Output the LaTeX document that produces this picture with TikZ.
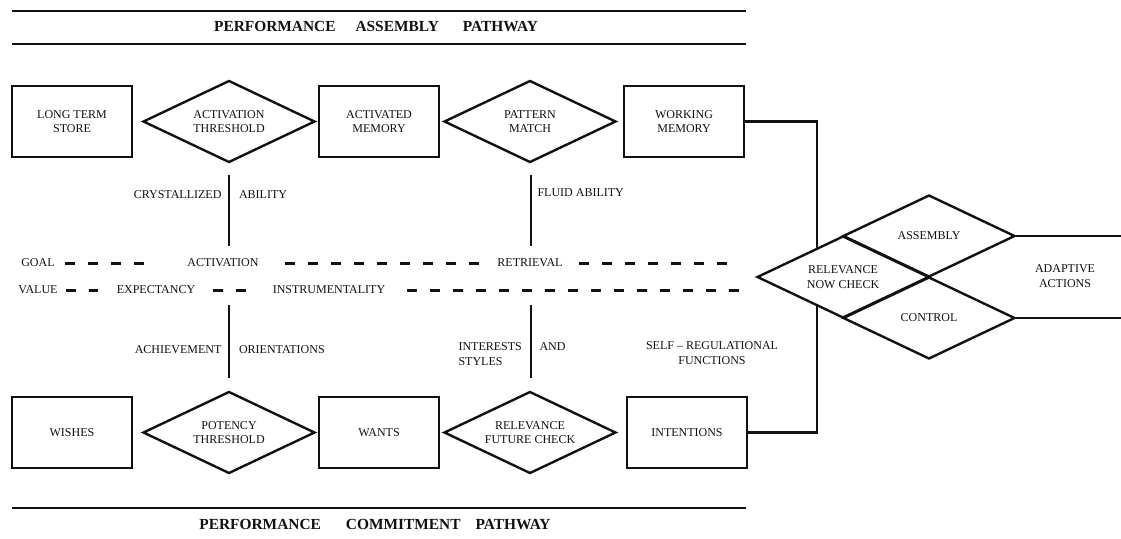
\documentclass[tikz,border=0pt]{standalone}
\usepackage{fontspec}
\setmainfont{Liberation Serif}
\usetikzlibrary{shapes.geometric}
\definecolor{diagink}{HTML}{111111}

\begin{document}
\begin{tikzpicture}[x=1pt, y=-1pt,
  every node/.style={font=\fontsize{12}{14.5}\selectfont, text=diagink, align=center},
  stagebox/.style={draw=diagink, line width=2.4pt, fill=white, minimum width=120pt, minimum height=71pt, inner sep=0pt},
  checkgate/.style={draw=diagink, line width=2.4pt, fill=white, diamond, aspect=2, minimum width=172pt, minimum height=82pt, inner sep=0pt},
  link/.style={draw=diagink, line width=2.2pt},
  dashrow/.style={draw=diagink, line width=3pt, dash pattern=on 10pt off 13pt},
  pathrule/.style={draw=diagink, line width=2.6pt},
  headline/.style={font=\fontsize{15.4}{17}\selectfont\bfseries}]

  \useasboundingbox (0,0) rectangle (1121,538);

  % pathway headings
  \draw[pathrule] (12,11) -- (746,11);
  \draw[pathrule] (12,44) -- (746,44);
  \draw[pathrule] (12,508) -- (746,508);
  \node[headline] (asmtitle) at (376,27) {PERFORMANCE\hspace{20pt}ASSEMBLY\hspace{24pt}PATHWAY};
  \node[headline] (cmttitle) at (375,525) {PERFORMANCE\hspace{25pt}COMMITMENT\hspace{15pt}PATHWAY};

  % assembly row
  \node[stagebox] (store) at (72,121.5) {LONG TERM\\STORE};
  \node[checkgate] (actthr) at (229,121.5) {ACTIVATION\\THRESHOLD};
  \node[stagebox] (actmem) at (379,121.5) {ACTIVATED\\MEMORY};
  \node[checkgate] (patmatch) at (530,121.5) {PATTERN\\MATCH};
  \node[stagebox] (workmem) at (684,121.5) {WORKING\\MEMORY};

  % commitment row
  \node[stagebox] (wishes) at (72,432.5) {WISHES};
  \node[checkgate] (potthr) at (229,432.5) {POTENCY\\THRESHOLD};
  \node[stagebox] (wants) at (379,432.5) {WANTS};
  \node[checkgate] (futcheck) at (530,432.5) {RELEVANCE\\FUTURE CHECK};
  \node[stagebox] (intent) at (687,432.5) {INTENTIONS};

  % relevance now check
  \coordinate (rail) at (817,277);
  \draw[link] (workmem.east) -| (rail) |- (intent.east);
  \node[checkgate] (nowcheck) at (843,277) {RELEVANCE\\NOW CHECK};
  \node[checkgate] (assembly) at (929,236) {ASSEMBLY};
  \node[checkgate] (control) at (929,318) {CONTROL};
  \coordinate (outhi) at (1121,236);
  \coordinate (outlo) at (1121,318);
  \draw[link] (assembly.east) -- (outhi);
  \draw[link] (control.east) -- (outlo);
  \node (adaptive) at (1065,276) {ADAPTIVE\\ACTIONS};

  % goal and value rows
  \node (goal) at (38,263) {GOAL};
  \node (activation) at (223,263) {ACTIVATION};
  \node (retrieval) at (530,263) {RETRIEVAL};
  \coordinate (goalend) at (740,263);
  \draw[dashrow, shorten <=7pt, shorten >=36pt] (goal) -- (activation);
  \draw[dashrow, shorten <=23pt, shorten >=13.4pt] (activation) -- (retrieval);
  \draw[dashrow, shorten <=13pt] (retrieval) -- (goalend);

  \node (value) at (38,290) {VALUE};
  \node (expect) at (156,290) {EXPECTANCY};
  \node (instrum) at (329,290) {INSTRUMENTALITY};
  \coordinate (valueend) at (740,290);
  \draw[dashrow, shorten <=4.5pt, shorten >=15pt] (value) -- (expect);
  \draw[dashrow, shorten <=14pt, shorten >=22pt] (expect) -- (instrum);
  \draw[dashrow, shorten <=18pt] (instrum) -- (valueend);

  % ability and orientation dividers
  \draw[link] (229,175) -- (229,246);
  \draw[link] (229,305) -- (229,378);
  \draw[link] (531,175) -- (531,246);
  \draw[link] (531,305) -- (531,378);
  \node[anchor=east] (crystal) at (225,195) {CRYSTALLIZED};
  \node[anchor=west] (crysab) at (235.5,195) {ABILITY};
  \node[anchor=west] (fluid) at (534,193) {FLUID ABILITY};
  \node[anchor=east] (achieve) at (225,350) {ACHIEVEMENT};
  \node[anchor=west] (orient) at (235.5,350) {ORIENTATIONS};
  \node[anchor=west, align=left] (interest) at (455,354) {INTERESTS\\STYLES};
  \node[anchor=west] (intand) at (536,347) {AND};
  \node (selfreg) at (712,353) {SELF -- REGULATIONAL\\FUNCTIONS};

\end{tikzpicture}
\end{document}
